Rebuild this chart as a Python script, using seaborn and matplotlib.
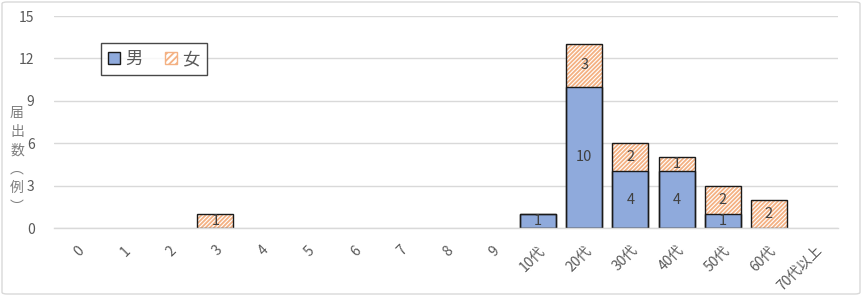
import matplotlib
matplotlib.use("Agg")
import matplotlib.pyplot as plt
import matplotlib.transforms as mtransforms
from matplotlib.patches import FancyBboxPatch, Patch
import seaborn as sns
import pandas as pd

categories = ["0", "1", "2", "3", "4", "5", "6", "7", "8", "9",
              "10代", "20代", "30代", "40代", "50代", "60代", "70代以上"]
male = [0, 0, 0, 0, 0, 0, 0, 0, 0, 0, 1, 10, 4, 4, 1, 0, 0]
female = [0, 0, 0, 1, 0, 0, 0, 0, 0, 0, 0, 3, 2, 1, 2, 2, 0]
yticks = [0, 3, 6, 9, 12, 15]
ylabel_chars = ["届", "出", "数", "︵", "例", "︶"]
legend_labels = ["男", "女"]

sns.set_theme(style="white")
plt.rcParams["font.family"] = ["Noto Sans CJK JP", "DejaVu Sans"]
plt.rcParams["hatch.linewidth"] = 1.3

BLUE = "#8FAADC"
ORANGE = "#F4B183"
TEXT = "#595959"

total = [m + f for m, f in zip(male, female)]
df = pd.DataFrame({"cat": categories, "male": male, "female": female, "total": total})
df_tot = df[df["total"] > 0]
df_m = df[df["male"] > 0]

fig = plt.figure(figsize=(8.62, 2.96), dpi=100)
W, H = 862, 296
ax = fig.add_axes([54 / W, (H - 228) / H, (838 - 54) / W, (228 - 16) / H])

width = 0.78
HATCH = "////////"
sns.barplot(data=df_tot, x="cat", y="total", order=categories, color="white",
            hatch=HATCH, edgecolor=ORANGE, linewidth=0, width=width,
            saturation=1, ax=ax)
sns.barplot(data=df_m, x="cat", y="male", order=categories, color=BLUE,
            edgecolor="#1a1a1a", linewidth=1.0, width=width, saturation=1, ax=ax)
sns.barplot(data=df_tot, x="cat", y="total", order=categories, color="#1a1a1a",
            fill=False, linewidth=1.0, width=width, saturation=1, ax=ax)

for i, (m, f) in enumerate(zip(male, female)):
    if m > 0:
        ax.text(i, m / 2, str(m), ha="center", va="center", fontsize=10.5, color="#404040")
    if f > 0:
        ax.text(i, m + f / 2, str(f), ha="center", va="center", fontsize=10.5, color="#404040")

ax.set_xlim(-0.5, len(categories) - 0.5)
ax.set_ylim(0, 15)
ax.set_yticks(yticks)
ax.set_yticklabels([str(t) for t in yticks], fontsize=10, color=TEXT)
ax.yaxis.grid(True, color="#d9d9d9", linewidth=1.0)
ax.set_axisbelow(True)
for s in ["top", "right", "left"]:
    ax.spines[s].set_visible(False)
ax.spines["bottom"].set_color("#d9d9d9")
ax.spines["bottom"].set_linewidth(1.0)
ax.tick_params(axis="both", length=0)
ax.tick_params(axis="y", pad=14)
ax.set_xlabel("")
ax.set_ylabel("")

ax.set_xticks(range(len(categories)))
ax.set_xticklabels(categories, rotation=45, ha="right", va="top",
                   rotation_mode="anchor", fontsize=10, color=TEXT)
offset = mtransforms.ScaledTranslation(4 / 72, 0, fig.dpi_scale_trans)
for lab in ax.get_xticklabels():
    lab.set_transform(lab.get_transform() + offset)
ax.tick_params(axis="x", pad=11)

fig.text(17 / W, 1 - 160 / H, "\n".join(ylabel_chars), ha="center", va="center",
         fontsize=10, color="#7f7f7f", linespacing=1.45)

handles = [Patch(facecolor=BLUE, edgecolor="#1a1a1a", linewidth=1.0),
           Patch(facecolor="white", edgecolor=ORANGE, hatch="/////", linewidth=1.0)]
leg = ax.legend(handles, legend_labels, loc="upper left",
                bbox_to_anchor=((101 - 54) / (838 - 54), 1 - (43 - 16) / (228 - 16)),
                ncol=2, frameon=True, fancybox=False, fontsize=12.5,
                handlelength=0.7, handleheight=0.7, handletextpad=0.3,
                columnspacing=1.3, borderpad=0.4, borderaxespad=0)
leg.get_frame().set_edgecolor("#1a1a1a")
leg.get_frame().set_linewidth(1.0)
for t in leg.get_texts():
    t.set_color(TEXT)

border = FancyBboxPatch((2 / W, 2 / H), 1 - 4 / W, 1 - 4 / H,
                        boxstyle="round,pad=0,rounding_size=0.006",
                        transform=fig.transFigure, facecolor="none",
                        edgecolor="#d9d9d9", linewidth=1.0)
fig.patches.append(border)

fig.savefig("out.png", dpi=100)
